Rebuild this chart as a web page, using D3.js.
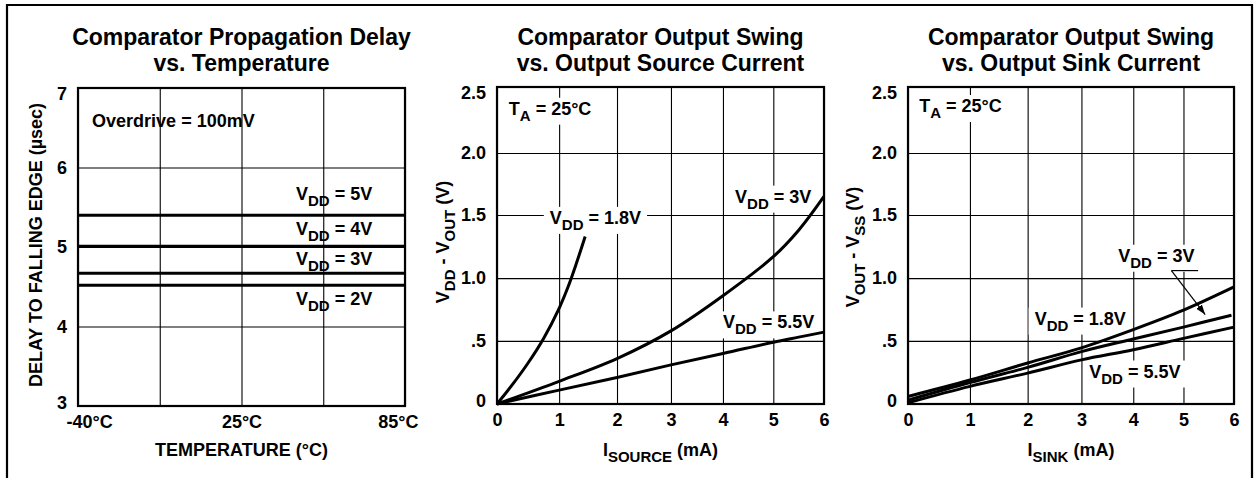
<!DOCTYPE html>
<html>
<head>
<meta charset="utf-8">
<script src="https://cdn.jsdelivr.net/npm/d3@7"></script>
<style>
  body { margin: 0; background: #fff; }
  svg text { font-family: "Liberation Sans", Arial, Helvetica, sans-serif; font-weight: bold; fill: #000; }
  .tick text { font-size: 18px; }
</style>
</head>
<body>
<div id="chart"></div>
<script>
// ---- panel 1: propagation delay vs temperature ----
var tempTicks = [-40, -7.5, 25, 55, 85];
var tempTickLabels = ["-40°C", "", "25°C", "", "85°C"];
var delayTicks = [3, 4, 5, 6, 7];
var delayVdd = ["5V", "4V", "3V", "2V"];
var delayValues = [5.40, 5.01, 4.67, 4.52];     // flat over temperature
var delayLabelY = [5.59, 5.15, 4.77, 4.27];     // label baselines (µs)

// ---- panel 2: output swing vs source current ----
var currentTicks = [0, 1, 2, 3, 4, 5, 6];
var swingTicks = [0, 0.5, 1.0, 1.5, 2.0, 2.5];
var swingTickLabels = ["0", ".5", "1.0", "1.5", "2.0", "2.5"];
var src18X = [0, 0.25, 0.5, 0.75, 1.0, 1.15, 1.3, 1.45];
var src18Y = [0, 0.155, 0.325, 0.52, 0.76, 0.925, 1.12, 1.33];
var srcX = [0, 1, 2, 3, 4, 5, 5.5, 6];
var src3Y = [0, 0.18, 0.36, 0.58, 0.86, 1.17, 1.38, 1.65];
var src55Y = [0, 0.11, 0.21, 0.31, 0.40, 0.49, 0.53, 0.57];

// ---- panel 3: output swing vs sink current ----
var sinkX = [0, 1, 2, 3, 4, 5, 6];
var sink3X = [0, 1, 2, 3, 4, 5, 5.95];
var sink18Y = [0.06, 0.19, 0.325, 0.445, 0.59, 0.745, 0.93];
var sink3Y = [0.03, 0.17, 0.29, 0.415, 0.515, 0.61, 0.705];
var sink55Y = [0.01, 0.14, 0.245, 0.35, 0.43, 0.52, 0.61];

// the printed grids on the current plots are not evenly spaced
var currentGridFrac = [0, 0.19, 0.367, 0.532, 0.691, 0.845, 1];
var swingGridFrac = [0, 0.199, 0.397, 0.596, 0.792, 1];

var W = 1254, H = 478;
var svg = d3.select("#chart").append("svg").attr("width", W).attr("height", H);

var defs = svg.append("defs");
defs.append("marker")
    .attr("id", "arr")
    .attr("viewBox", "0 0 10 7")
    .attr("refX", 10).attr("refY", 3.5)
    .attr("markerUnits", "userSpaceOnUse")
    .attr("markerWidth", 10).attr("markerHeight", 7)
    .attr("orient", "auto")
  .append("path").attr("d", "M0,0L10,3.5L0,7Z").attr("fill", "#000");

// outer frame (open at the bottom)
svg.append("path")
    .attr("d", "M7," + H + "V5H1252V" + H)
    .attr("fill", "none").attr("stroke", "#000").attr("stroke-width", 2.2);

function vdd(v) { return [["V", 0], ["DD", 1], [" = " + v, 0]]; }
var taParts = [["T", 0], ["A", 1], [" = 25°C", 0]];

// text with subscripts, parts = [[string, isSub], ...]
function richText(sel, parts, size) {
    var shift = Math.round(size * 0.32);
    var down = false;
    parts.forEach(function (p) {
        var t = sel.append("tspan").text(p[0]);
        if (p[1]) {
            t.attr("font-size", Math.round(size * 0.82) + "px").attr("dy", down ? 0 : shift);
            down = true;
        } else {
            t.attr("font-size", size + "px").attr("dy", down ? -shift : 0);
            down = false;
        }
    });
    return sel;
}

function drawPanel(p) {
    var g = svg.append("g");
    var x = d3.scaleLinear().domain(p.xDomain)
        .range(p.xFrac.map(function (f) { return p.left + f * (p.right - p.left); }));
    var y = d3.scaleLinear().domain(p.yDomain)
        .range(p.yFrac.map(function (f) { return p.bottom - f * (p.bottom - p.top); }));
    var cx = (p.left + p.right) / 2;

    // title
    p.title.forEach(function (line, i) {
        g.append("text").attr("x", cx).attr("y", 45 + i * 26)
            .attr("text-anchor", "middle").style("font-size", "23px").text(line);
    });

    // grid
    var gx = g.append("g").attr("transform", "translate(0," + p.bottom + ")")
        .call(d3.axisBottom(x).tickValues(p.xTicks).tickSize(-(p.bottom - p.top)).tickFormat(""));
    var gy = g.append("g").attr("transform", "translate(" + p.left + ",0)")
        .call(d3.axisLeft(y).tickValues(p.yTicks).tickSize(-(p.right - p.left)).tickFormat(""));
    [gx, gy].forEach(function (a) {
        a.select(".domain").remove();
        a.selectAll("line").attr("stroke", "#000").attr("stroke-width", 1.1);
    });

    // tick labels
    var xa = g.append("g").attr("transform", "translate(0," + p.bottom + ")")
        .call(d3.axisBottom(x).tickValues(p.xTicks).tickSize(0).tickPadding(9).tickFormat(p.xFormat));
    xa.select(".domain").remove();
    if (p.xEdgeLabels) {
        var xt = xa.selectAll("text");
        var n = xt.size();
        xt.each(function (d, i) {
            if (i === 0) d3.select(this).attr("text-anchor", "start").attr("dx", -12);
            if (i === n - 1) d3.select(this).attr("text-anchor", "end").attr("dx", 13);
        });
    }
    var ya = g.append("g").attr("transform", "translate(" + p.left + ",0)")
        .call(d3.axisLeft(y).tickValues(p.yTicks).tickSize(0).tickPadding(11).tickFormat(p.yFormat));
    ya.select(".domain").remove();
    var yMin = d3.min(p.yTicks), yMax = d3.max(p.yTicks);
    ya.selectAll("text").attr("y", function (d) { return d === yMax ? 6 : d === yMin ? -3 : 0; });

    // axis titles
    richText(g.append("text").attr("x", cx).attr("y", 456).attr("text-anchor", "middle"), p.xTitle, 18);
    richText(g.append("text").attr("text-anchor", "middle")
        .attr("transform", "translate(" + p.yTitlePos[0] + "," + p.yTitlePos[1] + ") rotate(-90)"), p.yTitle, 18);

    var bgLayer = g.append("g");

    // plot frame
    g.append("rect")
        .attr("x", p.left).attr("y", p.top)
        .attr("width", p.right - p.left).attr("height", p.bottom - p.top)
        .attr("fill", "none").attr("stroke", "#000").attr("stroke-width", 2.2);

    // curves
    var line = d3.line()
        .x(function (d) { return x(d[0]); })
        .y(function (d) { return y(d[1]); })
        .curve(d3.curveCatmullRom.alpha(0.5));
    g.append("g").selectAll("path").data(p.series).join("path")
        .attr("d", line)
        .attr("fill", "none").attr("stroke", "#000").attr("stroke-width", 3);

    // annotations
    var textLayer = g.append("g");
    p.labels.forEach(function (l) {
        var t = richText(textLayer.append("text").attr("x", x(l.x)).attr("y", y(l.y)), l.parts, 18);
        if (p.labelBg) {
            var b = t.node().getBBox();
            bgLayer.append("rect")
                .attr("x", b.x - 6).attr("y", b.y - 1)
                .attr("width", b.width + 12).attr("height", b.height + 2)
                .attr("fill", "#fff");
        }
    });

    if (p.arrow) {
        var a = p.arrow;
        g.append("path")
            .attr("d", "M" + x(a.to) + "," + y(a.from[1]) + "H" + x(a.from[0]))
            .attr("fill", "none").attr("stroke", "#000").attr("stroke-width", 1.2);
        g.append("line")
            .attr("x1", x(a.from[0])).attr("y1", y(a.from[1]))
            .attr("x2", x(a.tip[0])).attr("y2", y(a.tip[1]))
            .attr("stroke", "#000").attr("stroke-width", 1.2)
            .attr("marker-end", "url(#arr)");
    }
}

function zip(xs, ys) { return xs.map(function (v, i) { return [v, ys[i]]; }); }

drawPanel({
    left: 78, right: 405, top: 88, bottom: 406,
    xDomain: [-40, 25, 85], xFrac: [0, 0.5, 1],
    yDomain: [3, 7], yFrac: [0, 1],
    xTicks: tempTicks, yTicks: delayTicks,
    xFormat: function (d, i) { return tempTickLabels[i]; },
    yFormat: d3.format("d"),
    xEdgeLabels: true,
    title: ["Comparator Propagation Delay", "vs. Temperature"],
    xTitle: [["TEMPERATURE (°C)", 0]],
    yTitle: [["DELAY TO FALLING EDGE (", 0], ["µ", 0], ["sec)", 0]],
    yTitlePos: [42, 245],
    series: delayValues.map(function (v) { return [[-40, v], [85, v]]; }),
    labels: [{ x: -34.4, y: 6.51, parts: [["Overdrive = 100mV", 0]] }].concat(
        delayVdd.map(function (v, i) { return { x: 45, y: delayLabelY[i], parts: vdd(v) }; })),
    labelBg: false
});

drawPanel({
    left: 497, right: 824, top: 87, bottom: 404,
    xDomain: currentTicks, xFrac: currentGridFrac,
    yDomain: swingTicks, yFrac: swingGridFrac,
    xTicks: currentTicks, yTicks: swingTicks,
    xFormat: d3.format("d"),
    yFormat: function (d, i) { return swingTickLabels[i]; },
    title: ["Comparator Output Swing", "vs. Output Source Current"],
    xTitle: [["I", 0], ["SOURCE", 1], [" (mA)", 0]],
    yTitle: [["V", 0], ["DD", 1], [" - V", 0], ["OUT", 1], [" (V)", 0]],
    yTitlePos: [449, 242],
    series: [zip(src18X, src18Y), zip(srcX, src3Y), zip(srcX, src55Y)],
    labels: [
        { x: 0.19, y: 2.29, parts: taParts },
        { x: 0.85, y: 1.43, parts: vdd("1.8V") },
        { x: 4.24, y: 1.60, parts: vdd("3V") },
        { x: 4.0, y: 0.60, parts: vdd("5.5V") }
    ],
    labelBg: true
});

drawPanel({
    left: 908, right: 1234, top: 87, bottom: 404,
    xDomain: currentTicks, xFrac: currentGridFrac,
    yDomain: swingTicks, yFrac: swingGridFrac,
    xTicks: currentTicks, yTicks: swingTicks,
    xFormat: d3.format("d"),
    yFormat: function (d, i) { return swingTickLabels[i]; },
    title: ["Comparator Output Swing", "vs. Output Sink Current"],
    xTitle: [["I", 0], ["SINK", 1], [" (mA)", 0]],
    yTitle: [["V", 0], ["OUT", 1], [" - V", 0], ["SS", 1], [" (V)", 0]],
    yTitlePos: [859, 247],
    series: [zip(sinkX, sink18Y), zip(sink3X, sink3Y), zip(sinkX, sink55Y)],
    labels: [
        { x: 0.18, y: 2.31, parts: taParts },
        { x: 3.71, y: 1.13, parts: vdd("3V") },
        { x: 2.13, y: 0.63, parts: vdd("1.8V") },
        { x: 3.15, y: 0.21, parts: vdd("5.5V") }
    ],
    labelBg: true,
    arrow: { from: [4.76, 1.06], to: 5.29, tip: [5.43, 0.71] }
});
</script>
</body>
</html>
